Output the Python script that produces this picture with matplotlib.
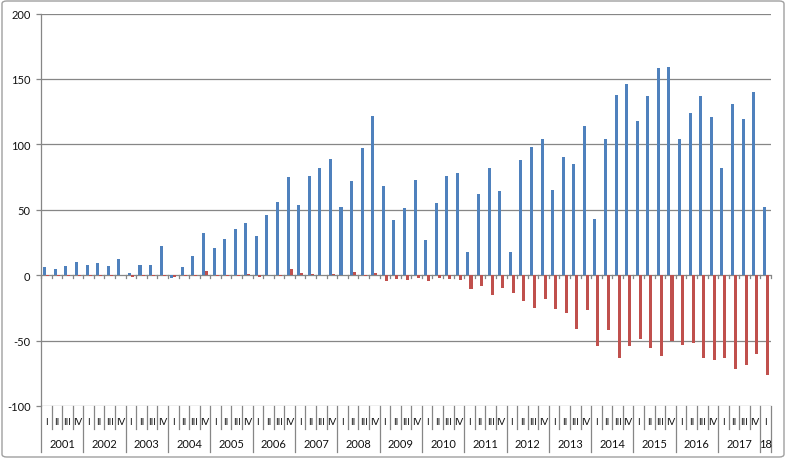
import matplotlib
matplotlib.use("Agg")
import matplotlib.pyplot as plt
import numpy as np
from matplotlib.transforms import blended_transform_factory
from matplotlib.patches import FancyBboxPatch
from matplotlib.lines import Line2D

plt.rcParams['font.family'] = ['Lato', 'DejaVu Sans']

quarters = ['I', 'II', 'III', 'IV']
years = ['2001', '2002', '2003', '2004', '2005', '2006', '2007', '2008', '2009',
         '2010', '2011', '2012', '2013', '2014', '2015', '2016', '2017', '18']

blue = [6, 5, 7, 10, 8, 9, 7, 12, 1.5, 8, 7.5, 22, -2, 6, 15, 32,
        21, 28, 35, 40, 30, 46, 56, 75, 54, 76, 82, 89, 52, 72, 97, 122,
        68, 42, 51, 73, 27, 55, 76, 78, 18, 62, 82, 64, 18, 88, 98, 104,
        65, 90, 85, 114, 43, 104, 138, 146, 118, 137, 158, 159, 104, 124, 137, 121,
        82, 131, 119, 140, 52]
red = [-0.5, -0.5, -0.3, -0.5, -0.5, -0.5, -0.3, 0.5, -1.5, -1, -0.5, -0.5, -1.5, -0.5, -1, 3,
       -0.5, -0.3, -1, 1, -1.5, 0.5, -1, 4.5, 1.5, 1, 0.5, 1, 0.5, 2.8, -1, 2,
       -4.5, -3.3, -4, -1.8, -4.5, -2.5, -2.8, -3.5, -10.6, -8.6, -15, -10, -14, -20, -25, -18,
       -26, -29, -41, -27, -54, -42, -63, -54, -49, -56, -62, -50, -53, -52, -63, -65,
       -63, -72, -69, -60, -76]

n = len(blue)
labels_q = [quarters[i % 4] for i in range(n)]

W, H = 786, 460
fig = plt.figure(figsize=(W / 100, H / 100), dpi=100)
left, right, top, bottom = 41, 771, 14.5, 407
ax = fig.add_axes([left / W, 1 - bottom / H, (right - left) / W, (bottom - top) / H])

x = np.arange(n)
bw = 1 / 3.5
ax.bar(x - bw / 2, blue, width=bw, color='#4F81BD', zorder=3)
ax.bar(x + bw / 2, red, width=bw, color='#C0504D', zorder=3)

ax.set_xlim(-0.5, n - 0.5)
ax.set_ylim(-100, 200)
ax.set_yticks([-100, -50, 0, 50, 100, 150, 200])
ax.set_yticklabels(['-100', '-50', '0', '50', '100', '150', '200'])
grid_c = '#868686'
for v in [-100, -50, 50, 100, 150, 200]:
    ax.axhline(v, color=grid_c, lw=0.9, zorder=1)
ax.axhline(0, color=grid_c, lw=0.9, zorder=2)

for s in ['top', 'right', 'bottom']:
    ax.spines[s].set_visible(False)
ax.spines['left'].set_color(grid_c)
ax.spines['left'].set_linewidth(0.9)
ax.tick_params(axis='y', length=3.5, color=grid_c, width=0.9, labelsize=8, pad=4,
               labelcolor='#111111')
ax.tick_params(axis='x', length=0, labelbottom=False)

# zero-axis tick marks
for b in range(n + 1):
    xb = b - 0.5
    ax.plot([xb, xb], [0, -2.2], color=grid_c, lw=0.9, zorder=2, clip_on=False)

# multi-level category axis
trans = blended_transform_factory(ax.transData, fig.transFigure)
fy = lambda py: 1 - py / H
for b in range(n + 1):
    xb = b - 0.5
    y_end = 453 if (b % 4 == 0 or b == n) else 430
    fig.add_artist(Line2D([xb, xb], [fy(407), fy(y_end)], transform=trans,
                          color=grid_c, lw=0.9))
for i in range(n):
    fig.text(i, fy(423), labels_q[i], transform=trans, ha='center', va='center',
             fontsize=7, color='#111111')
for k, yl in enumerate(years):
    start = 4 * k
    end = min(4 * k + 3, n - 1)
    xc = (start + end) / 2
    fig.text(xc, fy(445), yl, transform=trans, ha='center', va='center',
             fontsize=8, color='#111111')

# chart border
fig.add_artist(FancyBboxPatch((2 / W, 2 / H), (W - 4) / W, (H - 4) / H,
                              boxstyle='round,pad=0,rounding_size=0.006',
                              transform=fig.transFigure, fill=False,
                              edgecolor='#a0a0a0', lw=1))

fig.savefig('out.png', dpi=100)
